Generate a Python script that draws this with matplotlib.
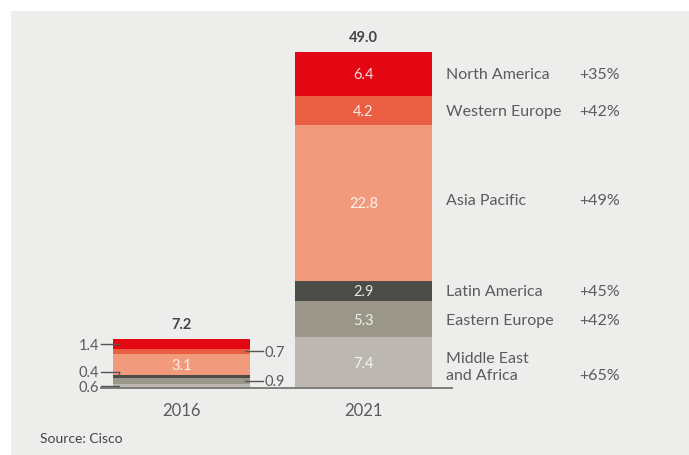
"""
Mobile data traffic by region, 2016 vs 2021 (exabytes per month), Cisco.
Stacked bars with leader-line labels and a right-hand legend column.
"""

import matplotlib.pyplot as plt
from matplotlib.patches import Rectangle

# ============================================================
# Data
# ============================================================
years = ["2016", "2021"]
regions = ["Middle East\nand Africa", "Eastern Europe", "Latin America",
           "Asia Pacific", "Western Europe", "North America"]  # bottom -> top
values_2016 = [0.6, 0.9, 0.4, 3.1, 0.7, 1.4]
values_2021 = [7.4, 5.3, 2.9, 22.8, 4.2, 6.4]
totals = ["7.2", "49.0"]
growth = ["+65%", "+42%", "+45%", "+49%", "+42%", "+35%"]
source = "Source: Cisco"

colors = ["#bcb8b1", "#9a9789", "#4b4c48", "#f29a7c", "#ea5f44", "#e30613"]
# where the 2016 labels go: left / right / inside
side_2016 = ["left", "right", "left", "inside", "right", "left"]

BG = "#ededeb"
TXT = "#5b5b5b"
plt.rcParams["font.family"] = ["Lato", "DejaVu Sans"]

# ============================================================
# Figure
# ============================================================
W, H = 689, 455
fig = plt.figure(figsize=(W / 100, H / 100), dpi=100)
fig.patch.set_facecolor("white")
fig.patches.append(Rectangle((11 / W, 0), 1, (H - 11) / H, transform=fig.transFigure,
                             facecolor=BG, edgecolor="none", zorder=-10))

# axes: x -0.5..1.5 spans px 90.5..454.5, y 0..50 spans baseline px 388 upward
px_per_unit = 336 / 49.0
ax = fig.add_axes([90.5 / W, (H - 388) / H, 364 / W, 50 * px_per_unit / H])
ax.set_xlim(-0.5, 1.5)
ax.set_ylim(0, 50)
ax.axis("off")

bar_w = 0.753
for xi, vals in enumerate([values_2016, values_2021]):
    bottom = 0
    for v, c in zip(vals, colors):
        ax.bar(xi, v, bottom=bottom, width=bar_w, color=c, linewidth=0)
        bottom += v
    ax.text(xi, bottom + 1.0, totals[xi], ha="center", va="bottom",
            fontsize=10.5, fontweight="bold", color="#444444")
    ax.text(xi, -2.2, years[xi], ha="center", va="top", fontsize=12, color=TXT)

# baseline
ax.plot([-0.448, 1.49], [0, 0], color="#7d7d7d", lw=1.4, clip_on=False,
        solid_capstyle="butt")

# 2021 in-bar values and legend column
bottom = 0
for v, name, g in zip(values_2021, regions, growth):
    mid = bottom + v / 2
    ax.text(1, mid, f"{v:.1f}", ha="center", va="center_baseline", fontsize=10.5,
            color="white", alpha=0.85)
    if "\n" in name:
        ax.text(1.453, mid - 0.7, name, ha="left", va="center", fontsize=11.5,
                color=TXT, linespacing=1.3, clip_on=False)
        ax.text(2.41, mid - 1.8, g, ha="right", va="center_baseline", fontsize=11.5,
                color=TXT, clip_on=False)
    else:
        ly = mid + 0.5 if v > 10 else mid
        ax.text(1.453, ly, name, ha="left", va="center_baseline", fontsize=11.5,
                color=TXT, clip_on=False)
        ax.text(2.41, ly, g, ha="right", va="center_baseline", fontsize=11.5,
                color=TXT, clip_on=False)
    bottom += v

# 2016 labels with leader lines
bottom = 0
for v, side in zip(values_2016, side_2016):
    mid = bottom + v / 2
    lab = f"{v:.1f}"
    if side == "inside":
        ax.text(0, mid, lab, ha="center", va="center_baseline", fontsize=10.5,
                color="white", alpha=0.85)
    elif side == "left":
        ly = mid
        if v < 0.5 and bottom > 1:  # small segment: lift the label
            ly = mid + 0.7
            ax.plot([-0.343, -0.343], [ly, mid], color="#555555", lw=1)
        if bottom == 0:
            ly = mid - 0.05
        ax.plot([-0.442, -0.343], [ly, ly], color="#555555", lw=1, clip_on=False)
        ax.text(-0.452, ly, lab, ha="right", va="center_baseline", fontsize=10.5,
                color=TXT, clip_on=False)
    else:
        ax.plot([0.349, 0.448], [mid, mid], color="#555555", lw=1, clip_on=False)
        ax.text(0.456, mid, lab, ha="left", va="center_baseline", fontsize=10.5,
                color=TXT, clip_on=False)
    bottom += v

fig.text(40 / W, 1 - 439 / H, source, ha="left", va="center", fontsize=10, color="#444444")

fig.savefig("out.png", dpi=100, facecolor=fig.get_facecolor())
